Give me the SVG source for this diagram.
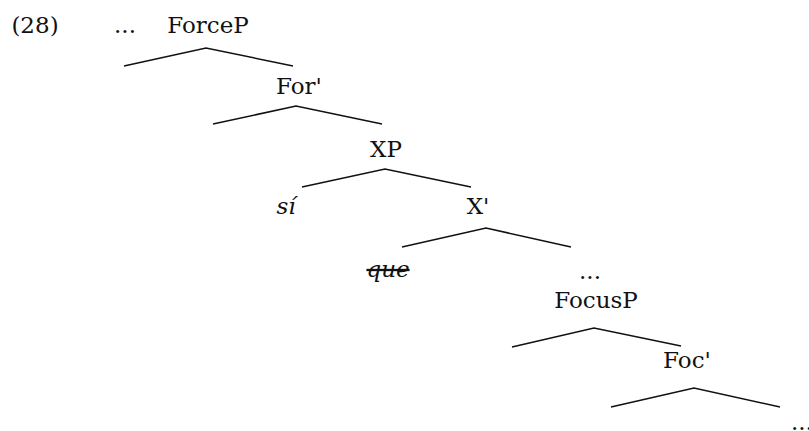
<svg xmlns="http://www.w3.org/2000/svg" width="809" height="431" viewBox="0 0 809 431">
<style>
text{font-family:"DejaVu Serif","Liberation Serif",serif;font-size:23px;fill:#111;text-anchor:middle}
.it{font-style:italic}
.edge{stroke:#111;stroke-width:1.5;fill:none}
</style>
<rect width="809" height="431" fill="#fff"/>
<g id="label28"><text x="35" y="33">(28)</text></g>
<g id="dots0"><text x="125" y="33">...</text></g>
<g id="ForceP"><text x="208" y="33">ForceP</text></g>
<g id="ForBar"><text x="299" y="94">For'</text></g>
<g id="XP"><text x="386" y="157">XP</text></g>
<g id="si"><text class="it" x="286" y="214">sí</text></g>
<g id="XBar"><text x="478" y="214">X'</text></g>
<g id="que"><text class="it" x="388" y="277" text-decoration="line-through">que</text></g>
<g id="dots1"><text x="590" y="279">...</text></g>
<g id="FocusP"><text x="596" y="308">FocusP</text></g>
<g id="FocBar"><text x="687" y="368">Foc'</text></g>
<g id="dots2"><text x="791" y="430" style="text-anchor:start">...</text></g>
<g id="connectors">
<polyline class="edge" points="124,66 206,48 293,66"/>
<polyline class="edge" points="213,124 296,106 382,124"/>
<polyline class="edge" points="302,187 385,169 471,187"/>
<polyline class="edge" points="402,247 486,228 571,247"/>
<polyline class="edge" points="512,347 594,328 681,346"/>
<polyline class="edge" points="611,407 694,388 780,407"/>
</g>
</svg>
